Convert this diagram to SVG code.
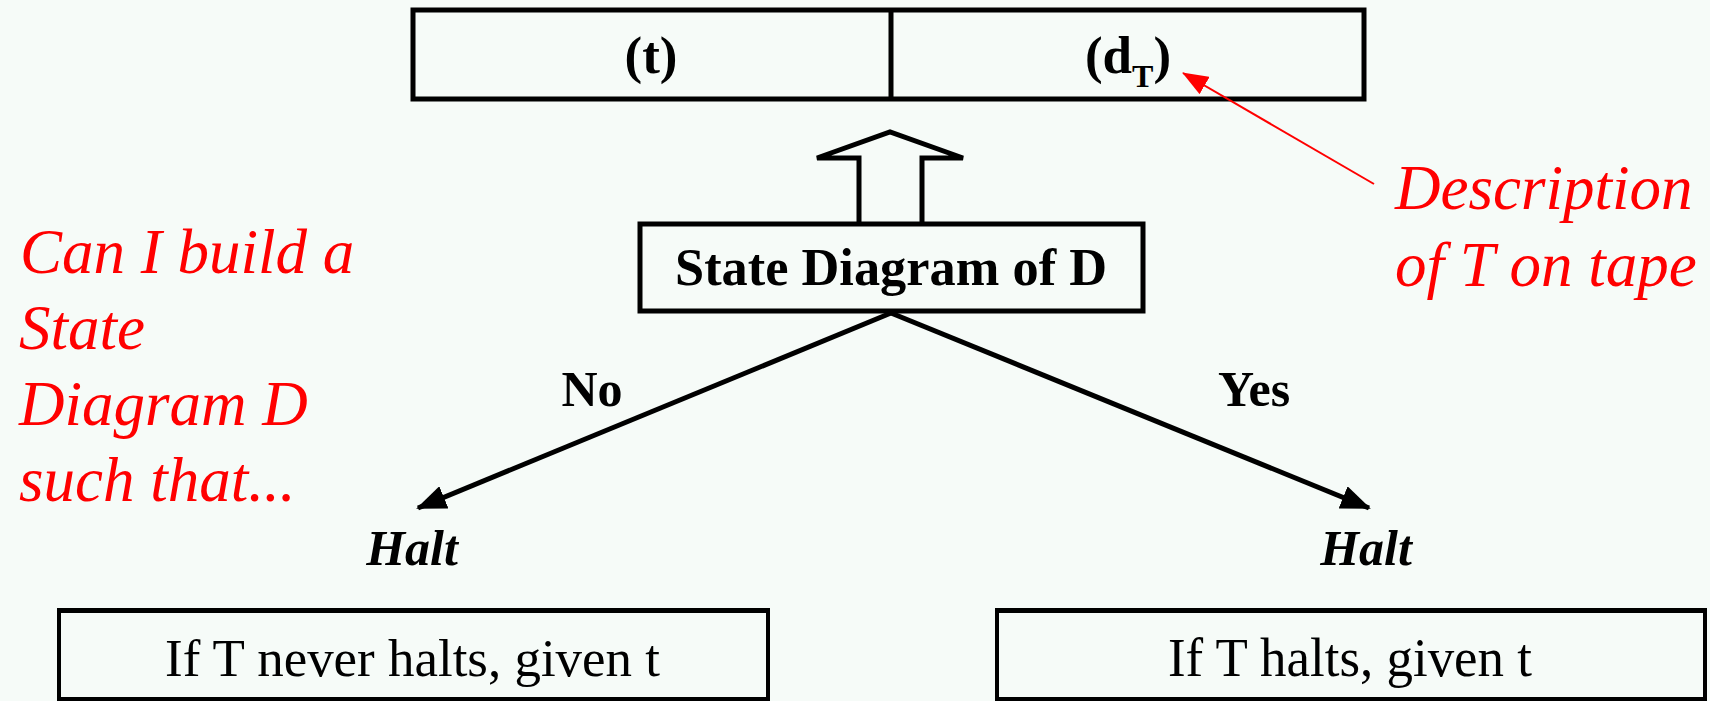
<svg xmlns="http://www.w3.org/2000/svg" width="1710" height="701" viewBox="0 0 1710 701">
<style>
.bg{fill:#F6FBF8}
.box{fill:none;stroke:#000;stroke-width:5}
.side{fill:none;stroke:#000;stroke-width:4}
.bold{font-family:"Liberation Serif","Times New Roman",serif;font-weight:bold;fill:#000}
.reg{font-family:"Liberation Serif","Times New Roman",serif;fill:#000}
.red{font-family:"Liberation Serif","Times New Roman",serif;font-style:italic;fill:#FF0000;font-size:63px}
.conn{stroke:#000;stroke-width:5;fill:none}
</style>
<defs>
<marker id="ah" markerUnits="userSpaceOnUse" viewBox="0 0 30 24" markerWidth="30" markerHeight="24" refX="28" refY="12" orient="auto">
<path d="M0,0 L30,12 L0,24 z" fill="#000"/>
</marker>
<marker id="rah" markerUnits="userSpaceOnUse" viewBox="0 0 26 20" markerWidth="26" markerHeight="20" refX="25" refY="10" orient="auto">
<path d="M0,0 L26,10 L0,20 z" fill="#FF0000"/>
</marker>
</defs>
<rect class="bg" x="0" y="0" width="1710" height="701"/>

<g id="tape">
<rect class="box" x="413" y="10" width="951" height="89"/>
<line class="box" x1="891" y1="10" x2="891" y2="99"/>
<text class="bold" x="651" y="73" font-size="53" text-anchor="middle">(t)</text>
<text class="bold" x="1128" y="73" font-size="53" text-anchor="middle">(d<tspan font-size="32" dy="14">T</tspan><tspan dy="-14">)</tspan></text>
</g>

<g id="state-diagram">
<rect class="box" x="640" y="224" width="503" height="87"/>
<text class="bold" x="891" y="285" font-size="52" text-anchor="middle" textLength="432" lengthAdjust="spacingAndGlyphs">State Diagram of D</text>
</g>

<g id="halt-no">
<text class="bold" x="412" y="565" font-size="50" font-style="italic" text-anchor="middle">Halt</text>
</g>
<g id="halt-yes">
<text class="bold" x="1366" y="565" font-size="50" font-style="italic" text-anchor="middle">Halt</text>
</g>

<g id="never-halts">
<rect class="side" x="59" y="611" width="709" height="88"/>
<line x1="57" y1="610.5" x2="770" y2="610.5" stroke="#000" stroke-width="5"/>
<text class="reg" x="412.5" y="676" font-size="53" text-anchor="middle" textLength="495" lengthAdjust="spacingAndGlyphs">If T never halts, given t</text>
</g>
<g id="halts">
<rect class="side" x="997" y="611" width="708" height="88"/>
<line x1="995" y1="610.5" x2="1707" y2="610.5" stroke="#000" stroke-width="5"/>
<text class="reg" x="1350" y="676" font-size="54" text-anchor="middle" textLength="364" lengthAdjust="spacingAndGlyphs">If T halts, given t</text>
</g>

<g id="question">
<text class="red" x="20" y="273">Can I build a</text>
<text class="red" x="19" y="349">State</text>
<text class="red" x="19" y="425">Diagram D</text>
<text class="red" x="19" y="501">such that...</text>
</g>

<g id="description">
<text class="red" x="1395" y="209">Description</text>
<text class="red" x="1395" y="286">of T on tape</text>
</g>

<g id="connectors">
<path class="conn" d="M859,222 L859,158 L817,158 L890,132 L963,158 L922,158 L922,222" stroke-linejoin="miter"/>
<line class="conn" x1="891" y1="313" x2="418" y2="508" marker-end="url(#ah)"/>
<line class="conn" x1="891" y1="313" x2="1369" y2="508" marker-end="url(#ah)"/>
<line x1="1374" y1="184" x2="1183" y2="73" stroke="#FF0000" stroke-width="2" marker-end="url(#rah)"/>
<text class="bold" x="592" y="406" font-size="50" text-anchor="middle">No</text>
<text class="bold" x="1254" y="406" font-size="50" text-anchor="middle">Yes</text>
</g>
</svg>
